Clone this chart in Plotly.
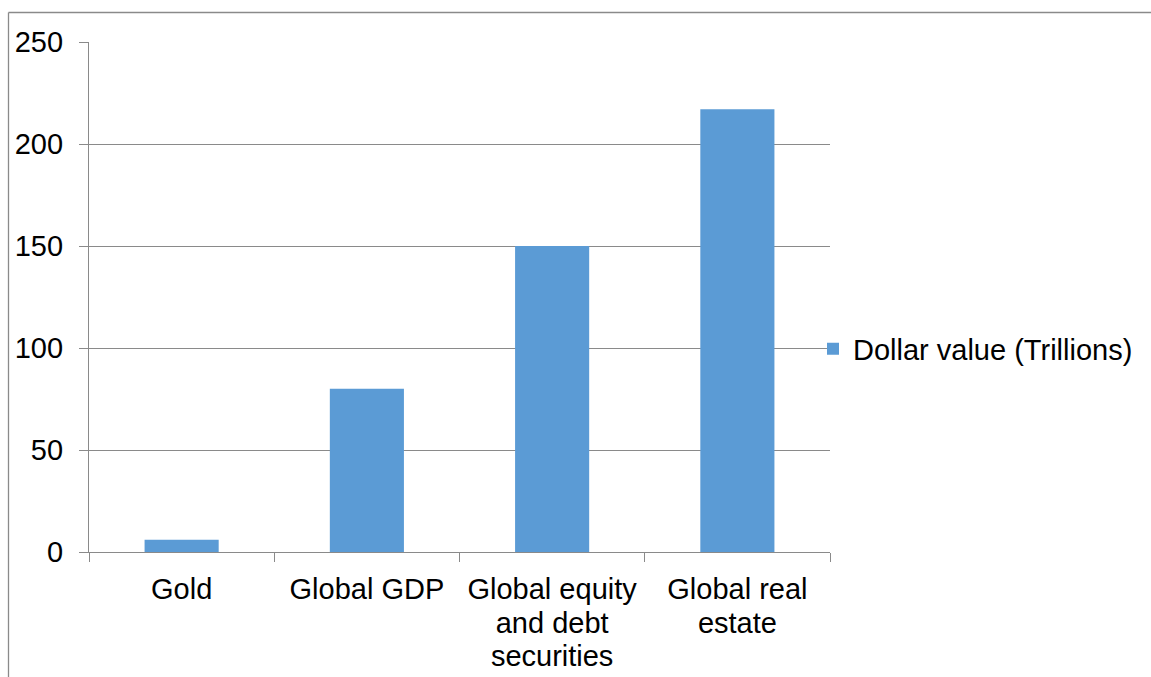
import plotly.graph_objects as go

# Market sizes, in trillions of US dollars
categories = ["Gold", "Global GDP", "Global equity and debt securities", "Global real estate"]
values = [6, 80, 150, 217]
series_name = "Dollar value (Trillions)"

# How each category label wraps under the axis
label_lines = [
    ["Gold"],
    ["Global GDP"],
    ["Global equity", "and debt", "securities"],
    ["Global real", "estate"],
]

y_ticks = [0, 50, 100, 150, 200, 250]

FONT = "Liberation Sans, Arial, sans-serif"
GLYPH = 29          # visible text size
LINE_BASE = 25.8    # sets the spacing between wrapped lines
GRAY = "#8a8a8a"
BLUE = "#5b9bd5"

W, H = 1151, 677
L, R, T, B = 89, 830, 42, 552  # plot-area edges in pixels


def wrap(lines):
    return "<br>".join(f"<span style='font-size:{GLYPH}px'>{s}</span>" for s in lines)


fig = go.Figure(
    go.Bar(
        x=categories,
        y=values,
        name=series_name,
        marker=dict(color=BLUE, line=dict(width=0)),
        width=0.4,
        showlegend=True,
    )
)

# Outer chart frame (top and left edges are visible)
px = lambda x: (x - L) / (R - L)
py = lambda y: (B - y) / (B - T)
frame = dict(type="line", xref="paper", yref="paper", line=dict(color=GRAY, width=1.3))
fig.add_shape(**frame, x0=px(8.5), x1=px(W + 5), y0=py(12.5), y1=py(12.5))
fig.add_shape(**frame, x0=px(8.5), x1=px(8.5), y0=py(12.5), y1=py(H + 5))

fig.update_layout(
    width=W,
    height=H,
    margin=dict(l=L, r=W - R, t=T, b=H - B, pad=0, autoexpand=False),
    paper_bgcolor="white",
    plot_bgcolor="white",
    font=dict(family=FONT, color="black", size=GLYPH),
    bargap=0.6,
    legend=dict(
        x=px(813),
        y=py(349),
        xanchor="left",
        yanchor="middle",
        font=dict(size=GLYPH, family=FONT, color="black"),
        bgcolor="rgba(0,0,0,0)",
    ),
    xaxis=dict(
        type="category",
        range=[-0.5, 3.5],
        tickmode="array",
        tickvals=categories,
        ticktext=[wrap(l) for l in label_lines],
        tickfont=dict(size=LINE_BASE, family=FONT, color="black"),
        tickson="boundaries",
        ticks="outside",
        ticklen=9,
        tickcolor=GRAY,
        tickwidth=1.3,
        ticklabelstandoff=15,
        automargin=False,
        showline=True,
        linecolor=GRAY,
        linewidth=1.3,
        showgrid=False,
        zeroline=False,
        fixedrange=True,
    ),
    yaxis=dict(
        range=[0, 250],
        tickvals=y_ticks,
        tickfont=dict(size=GLYPH, family=FONT, color="black"),
        ticks="outside",
        ticklen=9,
        tickcolor=GRAY,
        tickwidth=1.3,
        ticklabelstandoff=10,
        automargin=False,
        showline=True,
        linecolor=GRAY,
        linewidth=1.3,
        showgrid=True,
        gridcolor=GRAY,
        gridwidth=1.3,
        zeroline=False,
        fixedrange=True,
    ),
)

fig.write_html("out.html", config={"displayModeBar": False})
